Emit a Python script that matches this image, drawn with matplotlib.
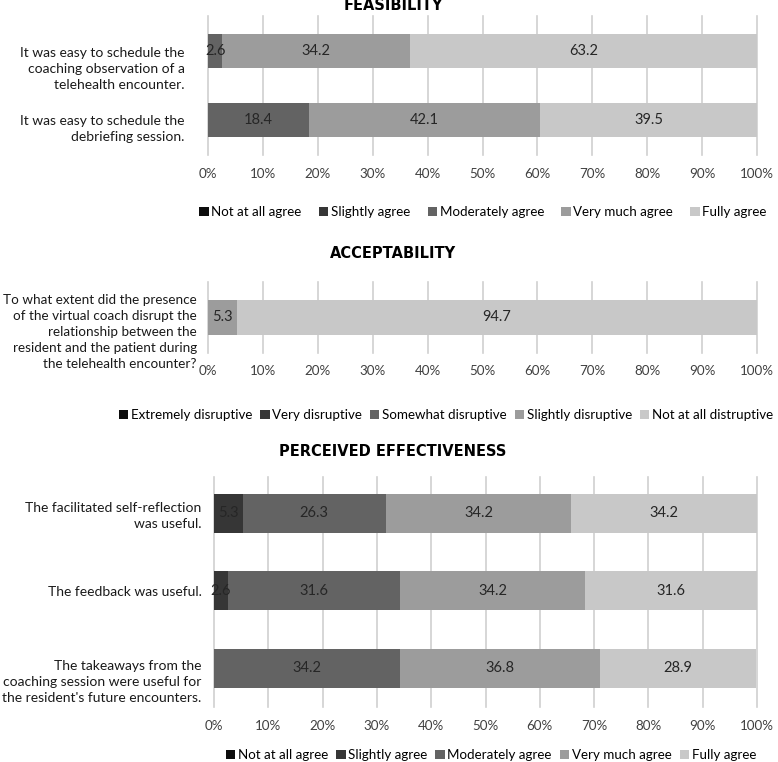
import matplotlib.pyplot as plt
import numpy as np
from matplotlib.patches import Patch
from matplotlib.transforms import ScaledTranslation

plt.rcParams['font.family'] = ['Lato', 'DejaVu Sans']

# --- datos ---
agree_levels = ['Not at all agree', 'Slightly agree', 'Moderately agree',
                'Very much agree', 'Fully agree']
disrupt_levels = ['Extremely disruptive', 'Very disruptive', 'Somewhat disruptive',
                  'Slightly disruptive', 'Not at all distruptive']
grays = ['#0d0d0d', '#363636', '#636363', '#9c9c9c', '#c8c8c8']

feas_items = ['It was easy to schedule the\ncoaching observation of a\ntelehealth encounter.',
              'It was easy to schedule the\ndebriefing session.']
feas_values = [[0, 0, 2.6, 34.2, 63.2],
               [0, 0, 18.4, 42.1, 39.5]]

accept_items = ['To what extent did the presence\nof the virtual coach disrupt the\n'
                'relationship between the\nresident and the patient during\n'
                'the telehealth encounter?']
accept_values = [[0, 0, 0, 5.3, 94.7]]

eff_items = ['The facilitated self-reflection\nwas useful.',
             'The feedback was useful.',
             "The takeaways from the\ncoaching session were useful for\nthe resident's future encounters."]
eff_values = [[0, 5.3, 26.3, 34.2, 34.2],
              [0, 2.6, 31.6, 34.2, 31.6],
              [0, 0, 34.2, 36.8, 28.9]]

W, H = 778, 762
fig = plt.figure(figsize=(W / 100, H / 100), dpi=100)


def panel(x0, x1, top, bottom, items, values, bar_h, ylim, pad, shifts, ysize=10):
    ax = fig.add_axes([x0 / W, 1 - bottom / H, (x1 - x0) / W, (bottom - top) / H])
    values = np.array(values)
    y = np.arange(len(items))
    left = np.zeros(len(items))
    for k in range(values.shape[1]):
        bars = ax.barh(y, values[:, k], left=left, height=bar_h, color=grays[k], zorder=2)
        labs = [f'{v:.1f}' if v > 0 else '' for v in values[:, k]]
        ax.bar_label(bars, labels=labs, label_type='center', fontsize=10.5, color='#262626')
        left += values[:, k]
    ax.set_xlim(0, 100)
    ax.set_ylim(*ylim)
    ax.set_xticks(np.arange(0, 101, 10))
    ax.set_xticklabels([f'{t}%' for t in range(0, 101, 10)], fontsize=9.6, color='#404040')
    ax.set_yticks(y)
    ax.set_yticklabels(items, fontsize=ysize, color='#1a1a1a', linespacing=1.4)
    ax.tick_params(length=0)
    ax.tick_params(axis='x', pad=9)
    ax.tick_params(axis='y', pad=pad)
    for lab, s in zip(ax.get_yticklabels(), shifts):
        lab.set_transform(lab.get_transform() + ScaledTranslation(0, -s / 100, fig.dpi_scale_trans))
    ax.xaxis.grid(True, color='#d0d0d0', linewidth=1.2, zorder=0)
    for gl in ax.get_xgridlines():
        gl.set_clip_on(False)
    ax.set_axisbelow(True)
    for sp in ax.spines.values():
        sp.set_visible(False)
    return ax


def legend(levels, xc, yc, spacing):
    handles = [Patch(facecolor=c, edgecolor='none') for c in grays]
    fig.legend(handles, levels, loc='center', bbox_to_anchor=(xc / W, 1 - yc / H),
               ncol=5, frameon=False, fontsize=9.6, handlelength=0.7, handleheight=0.7,
               handletextpad=0.2, columnspacing=spacing, borderpad=0, borderaxespad=0)


def title(text, yc):
    fig.text(0.505, 1 - yc / H, text, ha='center', va='center', fontsize=10.5,
             fontweight='bold', family='DejaVu Sans')


# FEASIBILITY
title('FEASIBILITY', 6)
panel(208, 757, 16, 155, feas_items, feas_values, 0.49, (1.5, -0.5), 17, [15, 6])
legend(agree_levels, 483, 212, 1.3)

# ACCEPTABILITY
title('ACCEPTABILITY', 254)
panel(208, 757, 282, 353, accept_items, accept_values, 0.5, (0.5, -0.5), 8, [12], ysize=9.7)
legend(disrupt_levels, 446, 415, 0.6)

# PERCEIVED EFFECTIVENESS
title('PERCEIVED EFFECTIVENESS', 452)
panel(214, 757, 477, 707, eff_items, eff_values, 0.5, (2.5, -0.47), 9, [0, 0, 11])
legend(agree_levels, 491, 755, 0.6)

fig.savefig('out.png', dpi=100)
